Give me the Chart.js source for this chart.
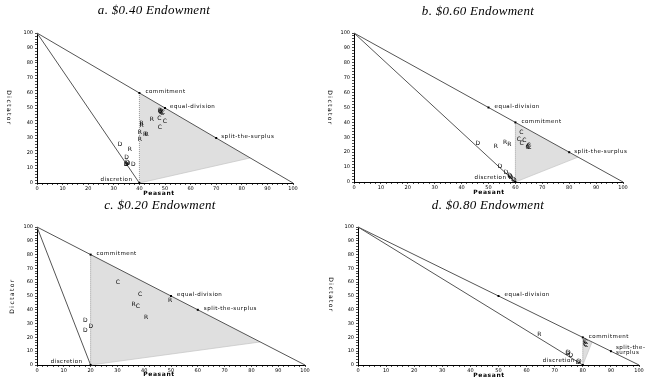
<!DOCTYPE html>
<html>
<head>
<meta charset="utf-8">
<script src="https://cdn.jsdelivr.net/npm/chart.js@4.4.1/dist/chart.umd.min.js"></script>
<style>
  html, body { margin: 0; padding: 0; background: #fff; width: 652px; height: 378px; overflow: hidden; }
  canvas { position: absolute; }
</style>
</head>
<body>
<canvas id="chartA" width="326" height="198" style="left:0;top:0"></canvas>
<canvas id="chartB" width="326" height="198" style="left:326px;top:0"></canvas>
<canvas id="chartC" width="326" height="183" style="left:0;top:195px"></canvas>
<canvas id="chartD" width="326" height="183" style="left:326px;top:195px"></canvas>
<script>
// ---- data ----
const tickLabels = [0, 10, 20, 30, 40, 50, 60, 70, 80, 90, 100];
const titles = ['a. $0.40 Endowment', 'b. $0.60 Endowment', 'c. $0.20 Endowment', 'd. $0.80 Endowment'];
const keyNames = ['commitment', 'equal-division', 'split-the-surplus', 'discretion'];
const shadeCorner = [83.3, 16.7];

// commitment, equal-division, split-the-surplus, discretion  (peasant, dictator)
const aKey = [[40, 60], [50, 50], [70, 30], [40, 0]];
const bKey = [[60, 40], [50, 50], [80, 20], [60, 0]];
const cKey = [[20, 80], [50, 50], [60, 40], [20, 0]];
const dKey = [[80, 20], [50, 50], [90, 10], [80, 0]];

// individual offers, by treatment letter
const aC = [[47.8, 43.1], [49.9, 41.3], [48, 36.9], [48.3, 46.9], [48.9, 46.5], [48, 47.4], [49.2, 46.8]];
const aR = [[44.9, 42.5], [40.9, 39.8], [40.9, 38.2], [40.2, 33.5], [42.2, 32.4], [42.8, 32.5], [40.2, 29.3],
            [36.3, 22.4], [48.1, 48.1], [48.6, 47.4]];
const aD = [[32.4, 26], [35, 17.1], [35.3, 13.6], [35, 12.6], [34.8, 12.1], [35.6, 12.8], [37.6, 12.2]];

const bC = [[62.2, 33.3], [61.3, 28.6], [63.3, 27.7], [62.3, 26], [64.7, 23.7], [65, 24.3], [64.5, 23.2], [65.2, 22.9]];
const bR = [[52.7, 23.7], [56.2, 26.6], [57.7, 25]];
const bD = [[46, 26], [54.3, 10.7], [56.5, 6.7], [58, 4], [58.3, 3.3], [57.8, 4.5], [59.2, 1.8], [59.6, 1.2]];

const cC = [[30.2, 59.5], [38.5, 51.1], [37.6, 42.2]];
const cR = [[49.7, 47], [36, 44.1], [40.7, 34.5]];
const cD = [[18, 32], [20.1, 28.2], [18, 25.3]];

const dC = [[81.1, 16.1], [80.8, 15], [81.2, 14], [80.7, 16.8]];
const dR = [[64.5, 22]];
const dD = [[74.8, 8.9], [75.7, 7.2], [74.6, 8.3], [78.8, 2.4], [78.3, 2]];

// ---- layout / style per panel ----
const layouts = [
  { id: 'chartA', key: aKey, C: aC, R: aR, D: aD, area: [37, 293, 33, 183],
    title: [154, 11], xTitle: [159, 193], yTitle: [9, 108, 1],
    labelPos: [[6, -1, 'left'], [5, -1, 'left'], [5, -1.5, 'left'], [-7, -3, 'right']] },
  { id: 'chartB', key: bKey, C: bC, R: bR, D: bD, area: [28, 297, 33, 182],
    title: [152, 12], xTitle: [163, 192], yTitle: [4, 108, 1],
    labelPos: [[6, -1, 'left'], [6, -1, 'left'], [5, -1, 'left'], [-9, -4, 'right']] },
  { id: 'chartC', key: cKey, C: cC, R: cR, D: cD, area: [37, 305, 32, 170],
    title: [160, 11], xTitle: [159, 179], yTitle: [12, 101, -1],
    labelPos: [[6, -1, 'left'], [6, -1, 'left'], [6, -1, 'left'], [-8, -3, 'right']] },
  { id: 'chartD', key: dKey, C: dC, R: dR, D: dD, area: [32, 313, 32, 170],
    title: [162, 11], xTitle: [163, 180], yTitle: [4.5, 100, 1],
    labelPos: [[6, -1, 'left'], [6, -1, 'left'], [5, -4, 'left'], [-8, -4, 'right']],
    wrapSplit: true }
];

const pt = a => ({ x: a[0], y: a[1] });

function spaced(ctx, px) {
  if ('letterSpacing' in ctx) ctx.letterSpacing = px + 'px';
}

const panelText = {
  id: 'panelText',
  afterDatasetsDraw(chart, args, o) {
    const ctx = chart.ctx;
    const xs = chart.scales.x, ys = chart.scales.y;
    ctx.save();
    ctx.fillStyle = '#000';
    // offer letters
    ctx.font = '6px "DejaVu Sans"';
    ctx.textAlign = 'center';
    ctx.textBaseline = 'middle';
    spaced(ctx, 0);
    chart.data.datasets.forEach((ds, i) => {
      if (!ds.letter) return;
      chart.getDatasetMeta(i).data.forEach(p => ctx.fillText(ds.letter, p.x, p.y));
    });
    // key point labels
    ctx.font = '5.5px "DejaVu Sans"';
    spaced(ctx, 0.5);
    o.key.forEach((k, i) => {
      const [dx, dy, align] = o.labelPos[i];
      const x = xs.getPixelForValue(k[0]) + dx;
      const y = ys.getPixelForValue(k[1]) + dy;
      ctx.textAlign = align;
      if (i === 2 && o.wrapSplit) {
        ctx.fillText('split-the-', x, y);
        ctx.fillText('surplus', x, y + 5);
      } else {
        ctx.fillText(keyNames[i], x, y);
      }
    });
    ctx.restore();
  },
  afterDraw(chart, args, o) {
    const ctx = chart.ctx;
    ctx.save();
    ctx.fillStyle = '#000';
    ctx.textBaseline = 'middle';
    ctx.textAlign = 'center';
    // title
    ctx.font = 'italic 13px "Liberation Serif"';
    spaced(ctx, 0.3);
    ctx.fillText(o.title, o.titlePos[0], o.titlePos[1]);
    // x title
    ctx.font = 'bold 6px "DejaVu Sans"';
    spaced(ctx, 0.6);
    ctx.fillText('Peasant', o.xTitle[0], o.xTitle[1]);
    // y title, stacked vertically
    ctx.translate(o.yTitle[0], o.yTitle[1]);
    ctx.rotate(o.yTitle[2] * Math.PI / 2);
    ctx.font = '6px "DejaVu Sans"';
    spaced(ctx, 1.4);
    ctx.fillText('Dictator', 0, 0);
    ctx.restore();
  }
};

function axis(size, isX) {
  return {
    type: 'linear', min: 0, max: 100,
    afterFit: s => { if (isX) s.height = size; else s.width = size; },
    ticks: {
      stepSize: 2, autoSkip: false, maxRotation: 0,
      color: '#000',
      font: { family: 'DejaVu Sans', size: 5 },
      padding: isX ? 1 : 2,
      callback: v => tickLabels.includes(v) ? String(v) : ''
    },
    grid: { drawOnChartArea: false, drawTicks: true, tickLength: 2, color: '#000', lineWidth: 0.7 },
    border: { display: true, color: '#000', width: 1 }
  };
}

function makePanel(L, idx) {
  const canvas = document.getElementById(L.id);
  const W = canvas.width, H = canvas.height;
  const [left, right, top, bottom] = L.area;
  const commit = L.key[0], disc = L.key[3];
  const letterSet = (letter, arr) => ({
    letter, data: arr.map(pt), pointRadius: 0, showLine: false, order: 0
  });
  return new Chart(canvas, {
    type: 'scatter',
    data: {
      datasets: [
        { data: [commit, disc, shadeCorner, commit].map(pt), showLine: true, fill: 'shape',
          backgroundColor: '#dfdfdf', borderWidth: 0, pointRadius: 0, order: 9 },
        { data: [disc, shadeCorner].map(pt), showLine: true, borderColor: '#c4c4c4',
          borderWidth: 0.7, pointRadius: 0, order: 8 },
        { data: [commit, disc].map(pt), showLine: true, borderColor: '#9a9a9a',
          borderWidth: 1, borderDash: [1, 1], pointRadius: 0, order: 7 },
        { data: [[0, 100], [100, 0]].map(pt), showLine: true, borderColor: '#555',
          borderWidth: 1, pointRadius: 0, order: 5 },
        { data: [[0, 100], disc].map(pt), showLine: true, borderColor: '#555',
          borderWidth: 1, pointRadius: 0, order: 5 },
        { data: L.key.map(pt), showLine: false, pointStyle: 'rect', pointRadius: 1.4,
          backgroundColor: '#000', borderColor: '#000', borderWidth: 0, order: 1 },
        letterSet('C', L.C),
        letterSet('R', L.R),
        letterSet('D', L.D)
      ]
    },
    options: {
      responsive: false,
      devicePixelRatio: 1,
      animation: false,
      events: [],
      clip: false,
      layout: { padding: { left: 0, right: W - right, top: top, bottom: 0 } },
      scales: { x: axis(H - bottom, true), y: axis(left, false) },
      plugins: {
        legend: { display: false },
        tooltip: { enabled: false },
        title: { display: false },
        panelText: {
          key: L.key, labelPos: L.labelPos, wrapSplit: !!L.wrapSplit,
          title: titles[idx], titlePos: L.title, xTitle: L.xTitle, yTitle: L.yTitle
        }
      }
    },
    plugins: [panelText]
  });
}

layouts.forEach(makePanel);
</script>
</body>
</html>
